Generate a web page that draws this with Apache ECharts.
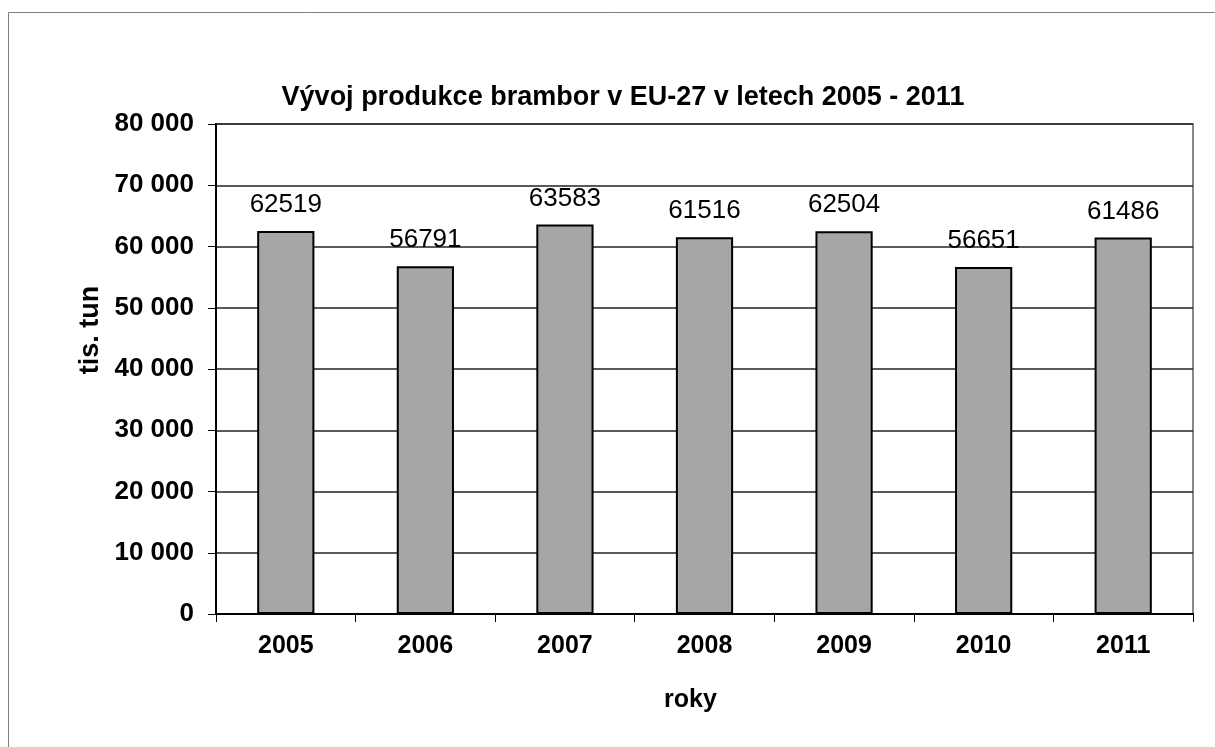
<!DOCTYPE html>
<html>
<head>
<meta charset="utf-8">
<script src="https://cdn.jsdelivr.net/npm/echarts@6/dist/echarts.min.js"></script>
<style>
  html, body { margin: 0; padding: 0; background: #fff; }
  #chart { width: 1215px; height: 747px; }
</style>
</head>
<body>
<div id="chart"></div>
<script>
const years = ['2005', '2006', '2007', '2008', '2009', '2010', '2011'];
const production = [62519, 56791, 63583, 61516, 62504, 56651, 61486];
const yTicks = [0, 10000, 20000, 30000, 40000, 50000, 60000, 70000, 80000];

const chart = echarts.init(document.getElementById('chart'));
const font = '"Liberation Sans", Arial, sans-serif';

const option = {
  animation: false,
  backgroundColor: '#fff',
  textStyle: { fontFamily: font },
  graphic: [{
    type: 'rect',
    shape: { x: 8.5, y: 12.5, width: 1220, height: 760 },
    style: { fill: 'none', stroke: '#808080', lineWidth: 1 }
  }],
  title: {
    text: 'Vývoj produkce brambor v EU-27 v letech 2005 - 2011',
    left: 618,
    top: 79,
    textAlign: 'center',
    textStyle: { fontFamily: font, fontSize: 27, fontWeight: 'bold', color: '#000' }
  },
  grid: {
    left: 216, right: 22, top: 124, bottom: 133,
    show: true, borderColor: '#888', borderWidth: 2
  },
  xAxis: {
    type: 'category',
    data: years,
    name: 'roky',
    nameLocation: 'middle',
    nameGap: 74,
    nameTextStyle: { fontFamily: font, fontSize: 25, fontWeight: 'bold', color: '#000', padding: [0, 28, 0, 0] },
    axisLine: { lineStyle: { color: '#000', width: 2 } },
    axisTick: { show: true, length: 8, lineStyle: { color: '#000', width: 1 } },
    axisLabel: { fontFamily: font, fontSize: 25, fontWeight: 'bold', color: '#000', margin: 20 }
  },
  yAxis: {
    type: 'value',
    min: yTicks[0],
    max: yTicks[yTicks.length - 1],
    interval: 10000,
    name: 'tis. tun',
    nameLocation: 'middle',
    nameGap: 106,
    nameTextStyle: { fontFamily: font, fontSize: 27, fontWeight: 'bold', color: '#000', padding: [0, 0, 0, 78] },
    axisLine: { show: true, lineStyle: { color: '#000', width: 2 } },
    axisTick: { show: true, length: 8, lineStyle: { color: '#000', width: 1 } },
    axisLabel: {
      fontFamily: font, fontSize: 26, fontWeight: 'bold', color: '#000', margin: 22,
      formatter: v => v === 0 ? '0' : String(v).replace(/\B(?=(\d{3})+(?!\d))/g, ' ')
    },
    splitLine: { show: true, lineStyle: { color: '#222', width: 1.5 } }
  },
  series: [{
    type: 'bar',
    data: production,
    barWidth: '41%',
    itemStyle: { color: '#a6a6a6', borderColor: '#000', borderWidth: 2 },
    label: {
      show: true,
      position: 'top',
      distance: 13,
      fontFamily: font,
      fontSize: 26,
      color: '#000'
    }
  }]
};

chart.setOption(option);
</script>
</body>
</html>
